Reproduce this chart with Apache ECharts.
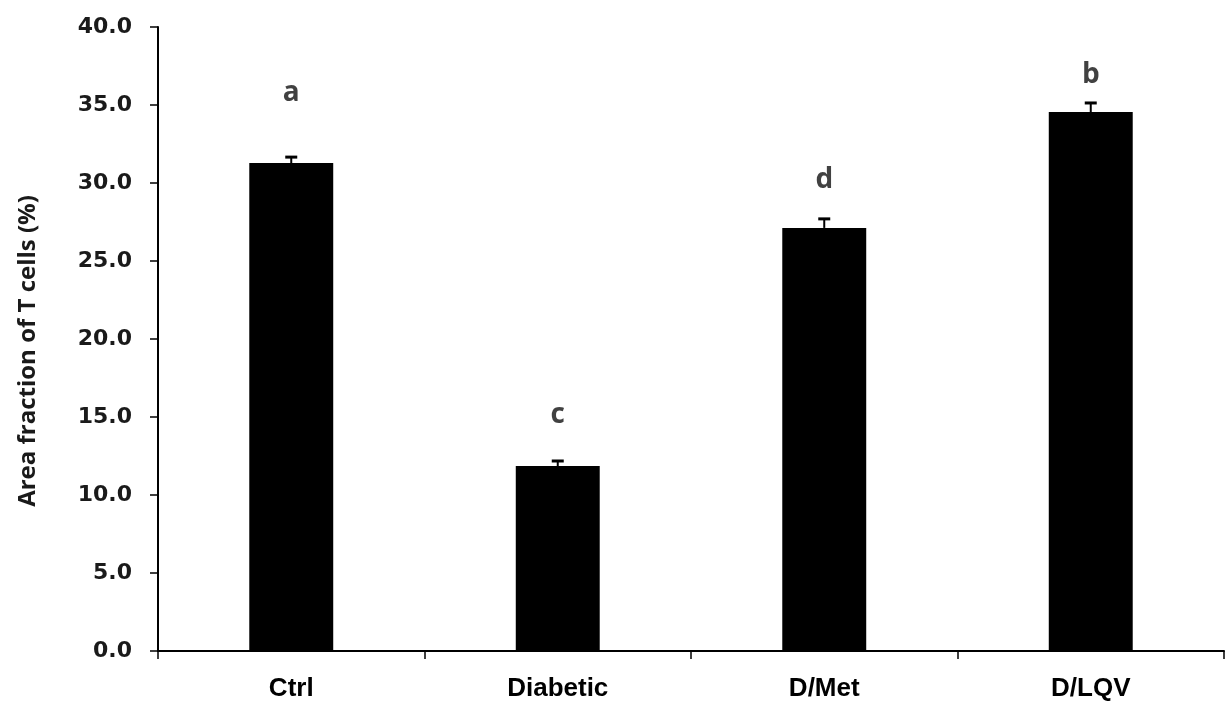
<!DOCTYPE html>
<html>
<head>
<meta charset="utf-8">
<script src="https://cdn.jsdelivr.net/npm/echarts@6/dist/echarts.min.js"></script>
<style>
html,body{margin:0;padding:0;background:#fff;}
#chart{width:1226px;height:706px;}
</style>
</head>
<body>
<div id="chart"></div>
<script>
const categories = ['Ctrl', 'Diabetic', 'D/Met', 'D/LQV'];
const values = [31.28, 11.86, 27.12, 34.55];
const errors = [0.38, 0.32, 0.58, 0.58];
const letters = ['a', 'c', 'd', 'b'];
const letterY = [35.77, 15.13, 30.19, 36.92];
const yTicks = [0, 5, 10, 15, 20, 25, 30, 35, 40];

const chart = echarts.init(document.getElementById('chart'));
chart.setOption({
  backgroundColor: '#fff',
  animation: false,
  grid: { left: 158, right: 2, top: 27, bottom: 55 },
  xAxis: {
    type: 'category',
    data: categories,
    boundaryGap: true,
    axisLine: { lineStyle: { color: '#000', width: 2 } },
    axisTick: { show: true, interval: 0, length: 8, lineStyle: { color: '#000', width: 1.5 } },
    axisLabel: {
      interval: 0, margin: 25, color: '#000',
      fontFamily: 'Liberation Sans', fontWeight: 'bold', fontSize: 26
    }
  },
  yAxis: {
    type: 'value',
    min: yTicks[0], max: yTicks[yTicks.length - 1], interval: 5,
    splitLine: { show: false },
    axisLine: { show: true, lineStyle: { color: '#000', width: 2 } },
    axisTick: { show: true, length: 8, lineStyle: { color: '#000', width: 1.5 } },
    axisLabel: {
      margin: 26, color: '#1a1a1a',
      fontFamily: 'DejaVu Sans', fontWeight: 'bold', fontSize: 22,
      formatter: v => v.toFixed(1)
    },
    name: 'Area fraction of T cells (%)',
    nameLocation: 'middle',
    nameGap: 118,
    nameTextStyle: {
      color: '#1a1a1a', fontFamily: 'Open Sans', fontWeight: 'bold', fontSize: 24,
      padding: [0, 24, 0, 0]
    }
  },
  series: [
    {
      type: 'bar',
      data: values,
      barWidth: '31.5%',
      itemStyle: { color: '#000' }
    },
    {
      type: 'custom',
      data: values.map((v, i) => [i, v, v + errors[i]]),
      z: 5,
      renderItem: function (params, api) {
        const base = api.coord([api.value(0), api.value(1)]);
        const top = api.coord([api.value(0), api.value(2)]);
        const hw = 6;
        return {
          type: 'group',
          children: [
            { type: 'line', shape: { x1: top[0], y1: base[1], x2: top[0], y2: top[1] }, style: { stroke: '#000', lineWidth: 2 } },
            { type: 'line', shape: { x1: top[0] - hw, y1: top[1], x2: top[0] + hw, y2: top[1] }, style: { stroke: '#000', lineWidth: 3 } }
          ]
        };
      }
    },
    {
      type: 'scatter',
      data: letterY.map((v, i) => [i, v]),
      symbolSize: 0,
      label: {
        show: true, position: 'inside',
        formatter: p => letters[p.dataIndex],
        color: '#111', fontFamily: 'Open Sans', fontWeight: 'bold', fontSize: 28
      }
    }
  ]
});
</script>
</body>
</html>
